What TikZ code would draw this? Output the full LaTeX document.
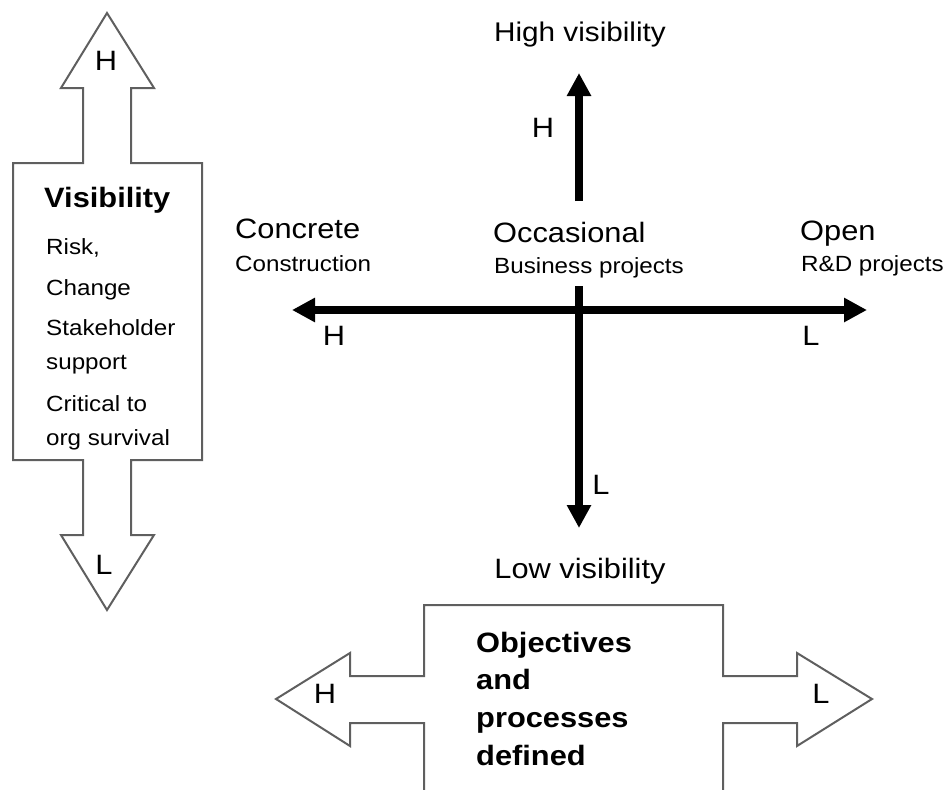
\documentclass[tikz,border=0pt]{standalone}
\usepackage{fontspec}
\setmainfont{Liberation Sans}[FakeStretch=1.1]
\usetikzlibrary{arrows.meta}
\definecolor{outl}{RGB}{95,95,95}
\begin{document}
\begin{tikzpicture}[x=1pt,y=-1pt,
  big/.style={inner sep=0pt,font=\fontsize{28}{34}\selectfont},
  bigb/.style={inner sep=0pt,font=\fontsize{28}{34}\selectfont\bfseries},
  small/.style={inner sep=0pt,font=\fontsize{22}{26}\selectfont},
  lbl/.style={inner sep=0pt,font=\fontsize{28}{34}\selectfont},
  shapeline/.style={draw=outl,line width=2pt,line join=miter},
  axis/.style={line width=8pt,-{Triangle[length=23pt,width=23pt]}}]
\useasboundingbox (0,0) rectangle (948,790);

% ---- left vertical double arrow
\draw[shapeline] (107,13) -- (154,88) -- (131,88) -- (131,163) -- (202,163)
  -- (202,460) -- (131,460) -- (131,535) -- (154,535) -- (107,610)
  -- (61,535) -- (83,535) -- (83,460) -- (13,460) -- (13,163) -- (83,163)
  -- (83,88) -- (61,88) -- cycle;
\node[lbl] (lh) at (106,61) {H};
\node[lbl] (ll) at (104,565) {L};
\node[bigb,anchor=base west] (vis) at (44,207) {Visibility};
\node[small,anchor=base west] (v1) at (46,254) {Risk,};
\node[small,anchor=base west] (v2) at (46,295) {Change};
\node[small,anchor=base west] (v3) at (46,335) {Stakeholder};
\node[small,anchor=base west] (v4) at (46,369) {support};
\node[small,anchor=base west] (v5) at (46,411) {Critical to};
\node[small,anchor=base west] (v6) at (46,445) {org survival};

% ---- axes
\coordinate (upS) at (579,201);
\coordinate (upT) at (579,73);
\coordinate (dnS) at (579,286);
\coordinate (dnT) at (579,528);
\coordinate (hL) at (292,310);
\coordinate (hR) at (867,310);
\draw[axis] (upS) -- (upT);
\draw[axis] (dnS) -- (dnT);
\draw[line width=8pt,{Triangle[length=23pt,width=23pt]}-{Triangle[length=23pt,width=23pt]}] (hL) -- (hR);

\node[big,anchor=base,font=\fontsize{27}{32}\selectfont] (hv) at (580,41) {High visibility};
\node[big,anchor=base] (lv) at (580,578) {Low visibility};
\node[lbl] (ah) at (543,128) {H};
\node[lbl] (al) at (601,485) {L};
\node[lbl] (hh) at (334,336) {H};
\node[lbl] (hl) at (811,336) {L};

\node[big,anchor=base west] (conc) at (235,238) {Concrete};
\node[small,anchor=base west] (cons) at (235,271) {Construction};
\node[big,anchor=base west] (occ) at (493,242) {Occasional};
\node[small,anchor=base west] (bus) at (494,273) {Business projects};
\node[big,anchor=base west] (open) at (800,240) {Open};
\node[small,anchor=base west] (rd) at (801,271) {R\&D projects};

% ---- bottom horizontal double arrow
\draw[shapeline] (424,790) -- (424,723) -- (350,723) -- (350,746) -- (276,699)
  -- (350,653) -- (350,676) -- (424,676) -- (424,605) -- (723,605) -- (723,676)
  -- (797,676) -- (797,653) -- (872,699) -- (797,746) -- (797,723) -- (723,723)
  -- (723,790);
\node[lbl] (bh) at (325,694) {H};
\node[lbl] (bl) at (821,694) {L};
\node[bigb,anchor=base west] (o1) at (476,652) {Objectives};
\node[bigb,anchor=base west] (o2) at (476,689) {and};
\node[bigb,anchor=base west] (o3) at (476,727) {processes};
\node[bigb,anchor=base west] (o4) at (476,765) {defined};
\end{tikzpicture}
\end{document}
